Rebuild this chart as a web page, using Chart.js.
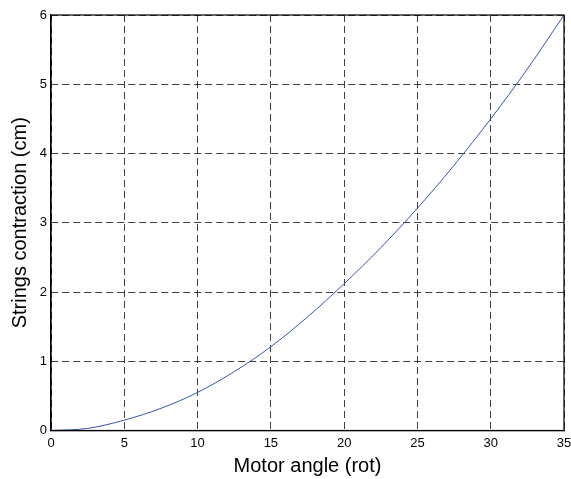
<!DOCTYPE html>
<html>
<head>
<meta charset="utf-8">
<script src="https://cdn.jsdelivr.net/npm/chart.js@4.4.1/dist/chart.umd.min.js"></script>
<style>
  html, body { margin: 0; padding: 0; background: #fff; }
  #wrap { width: 571px; height: 479px; position: relative; }
</style>
</head>
<body>
<div id="wrap"><canvas id="grafico"></canvas></div>
<script>
// dados
const anguloMotor = [0, 2.5, 5, 7.5, 10, 12.5, 15, 17.5, 20, 22.5, 25, 27.5, 30, 32.5, 35];
const contracao = [0, 0.03, 0.15, 0.32, 0.55, 0.85, 1.21, 1.64, 2.12, 2.64, 3.21, 3.83, 4.50, 5.22, 6.0];
const ticksX = [0, 5, 10, 15, 20, 25, 30, 35];
const ticksY = [0, 1, 2, 3, 4, 5, 6];

const fonte = "'Liberation Sans', Arial, Helvetica, sans-serif";

// caixa fechada em volta da area do grafico (estilo matlab)
const caixa = {
    id: 'caixa',
    afterDraw(chart) {
        const { ctx, chartArea: a } = chart;
        ctx.save();
        ctx.strokeStyle = '#000';
        ctx.lineWidth = 1.2;
        ctx.setLineDash([]);
        ctx.strokeRect(a.left, a.top, a.right - a.left, a.bottom - a.top);
        ctx.restore();
    }
};

const grade = {
    color: 'rgba(0,0,0,0.75)',
    lineWidth: 1,
    drawTicks: false
};

new Chart(document.getElementById('grafico').getContext('2d'), {
    type: 'line',
    data: {
        datasets: [{
            data: anguloMotor.map((a, i) => ({ x: a, y: contracao[i] })),
            borderColor: '#3556b0',
            borderWidth: 1,
            pointRadius: 0,
            fill: false,
            cubicInterpolationMode: 'monotone'
        }]
    },
    options: {
        responsive: true,
        maintainAspectRatio: false,
        animation: false,
        layout: { padding: { left: 0, top: 15, right: 7, bottom: 0 } },
        plugins: {
            legend: { display: false },
            tooltip: { enabled: false }
        },
        scales: {
            x: {
                type: 'linear',
                min: 0,
                max: 35,
                afterBuildTicks: (s) => { s.ticks = ticksX.map(v => ({ value: v })); },
                afterFit: (s) => { s.height = 48.5; s.paddingRight = 0; s.paddingLeft = 0; },
                grid: grade,
                border: { display: true, color: '#000', width: 1.2, dash: [7, 4] },
                ticks: { color: '#000', font: { family: fonte, size: 13 }, padding: 5, maxRotation: 0 },
                title: {
                    display: true,
                    text: 'Motor angle (rot)',
                    color: '#000',
                    font: { family: fonte, size: 20 },
                    padding: { top: 0, bottom: 1 }
                }
            },
            y: {
                min: 0,
                max: 6,
                afterBuildTicks: (s) => { s.ticks = ticksY.map(v => ({ value: v })); },
                afterFit: (s) => { s.width = 51; s.paddingTop = 0; s.paddingBottom = 0; },
                grid: grade,
                border: { display: true, color: '#000', width: 1.2, dash: [7, 4] },
                ticks: { color: '#000', font: { family: fonte, size: 13 }, padding: 4 },
                title: {
                    display: true,
                    text: 'Strings contraction (cm)',
                    color: '#000',
                    font: { family: fonte, size: 20 },
                    padding: { top: 8, bottom: 0 }
                }
            }
        }
    },
    plugins: [caixa]
});
</script>
</body>
</html>
